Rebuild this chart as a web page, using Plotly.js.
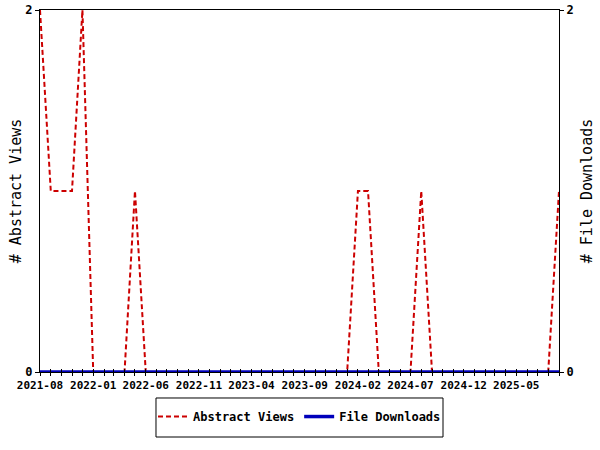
<!DOCTYPE html>
<html>
<head>
<meta charset="utf-8">
<script src="https://cdn.plot.ly/plotly-3.0.1.min.js"></script>
<style>html,body{margin:0;padding:0;background:#fff;}#chart{width:600px;height:450px;}</style>
</head>
<body>
<div id="chart"></div>
<script>
const months = [
  "2021-08","2021-09","2021-10","2021-11","2021-12",
  "2022-01","2022-02","2022-03","2022-04","2022-05",
  "2022-06","2022-07","2022-08","2022-09","2022-10",
  "2022-11","2022-12","2023-01","2023-02","2023-03",
  "2023-04","2023-05","2023-06","2023-07","2023-08",
  "2023-09","2023-10","2023-11","2023-12","2024-01",
  "2024-02","2024-03","2024-04","2024-05","2024-06",
  "2024-07","2024-08","2024-09","2024-10","2024-11",
  "2024-12","2025-01","2025-02","2025-03","2025-04",
  "2025-05","2025-06","2025-07","2025-08","2025-09"
];
const abstractViews = [
  2,1,1,1,2,
  0,0,0,0,1,
  0,0,0,0,0,
  0,0,0,0,0,
  0,0,0,0,0,
  0,0,0,0,0,
  1,1,0,0,0,
  0,1,0,0,0,
  0,0,0,0,0,
  0,0,0,0,1
];
const fileDownloads = [
  0,0,0,0,0, 0,0,0,0,0,
  0,0,0,0,0, 0,0,0,0,0,
  0,0,0,0,0, 0,0,0,0,0,
  0,0,0,0,0, 0,0,0,0,0,
  0,0,0,0,0, 0,0,0,0,0
];
const tickLabels = ["2021-08","2022-01","2022-06","2022-11","2023-04","2023-09","2024-02","2024-07","2024-12","2025-05"];
const yTicks = [0, 2];

const FONT = "DejaVu Sans Mono, Liberation Mono, monospace";

const traces = [
  {
    x: months, y: abstractViews, name: "Abstract Views",
    type: "scatter", mode: "lines", xaxis: "x", yaxis: "y",
    line: {color: "#cc0000", width: 2, dash: "5px,3px"}
  },
  {
    x: months, y: fileDownloads, name: "File Downloads",
    type: "scatter", mode: "lines", xaxis: "x", yaxis: "y2",
    line: {color: "#0000bb", width: 3.5}
  },
  {x: [months[0]], y: [0], xaxis: "x2", yaxis: "y", mode: "markers",
   marker: {opacity: 0}, showlegend: false, hoverinfo: "skip"}
];

const layout = {
  width: 600, height: 450,
  margin: {l: 40, r: 41, t: 10, b: 78},
  paper_bgcolor: "#fff", plot_bgcolor: "#fff",
  font: {family: FONT, color: "#000", size: 11},
  showlegend: true,
  legend: {
    orientation: "h", x: 0.5, xanchor: "center", y: -0.083, yanchor: "top",
    borderwidth: 0, bgcolor: "rgba(0,0,0,0)",
    font: {family: FONT, size: 12, weight: "bold"}
  },
  shapes: [{
    type: "rect", xref: "paper", yref: "paper",
    x0: 0.2235, x1: 0.7765, y0: -0.0718, y1: -0.1796,
    line: {color: "#000", width: 1}, fillcolor: "rgba(0,0,0,0)"
  }],
  xaxis: {
    type: "date",
    range: ["2021-08-01", "2025-09-01"],
    tickmode: "array",
    tickvals: tickLabels.map(m => m + "-01"),
    ticktext: tickLabels,
    tickangle: 0,
    ticks: "outside", ticklen: 3, tickcolor: "#000", tickwidth: 1,
    minor: {dtick: "M1", tick0: "2021-08-01", ticks: "outside", ticklen: 3, tickcolor: "#000", tickwidth: 1, showgrid: false},
    showline: true, linecolor: "#000", linewidth: 1, mirror: true,
    showgrid: false, zeroline: false,
    tickfont: {family: FONT, size: 11, weight: "bold"}
  },
  xaxis2: {
    type: "date", overlaying: "x",
    range: ["2021-08-01", "2025-09-01"],
    tickmode: "linear", dtick: "M1", tick0: "2021-08-01",
    ticks: "inside", ticklen: 3, tickcolor: "#000",
    showticklabels: false, showline: false, showgrid: false, zeroline: false
  },
  yaxis: {
    range: [0, 2], tickmode: "array", tickvals: yTicks,
    ticks: "outside", ticklen: 4, tickcolor: "#000",
    showline: true, linecolor: "#000", linewidth: 1,
    showgrid: false, zeroline: false,
    tickfont: {family: FONT, size: 12, weight: "bold"},
    title: {text: "# Abstract Views", font: {family: FONT, size: 15}, standoff: 0}
  },
  yaxis2: {
    range: [0, 2], overlaying: "y", side: "right", tickmode: "array", tickvals: yTicks,
    ticks: "outside", ticklen: 4, tickcolor: "#000",
    showline: true, linecolor: "#000", linewidth: 1,
    showgrid: false, zeroline: false,
    tickfont: {family: FONT, size: 12, weight: "bold"},
    title: {text: "# File Downloads", font: {family: FONT, size: 15}, standoff: 8}
  }
};

Plotly.newPlot("chart", traces, layout, {displayModeBar: false, staticPlot: true});
</script>
</body>
</html>
